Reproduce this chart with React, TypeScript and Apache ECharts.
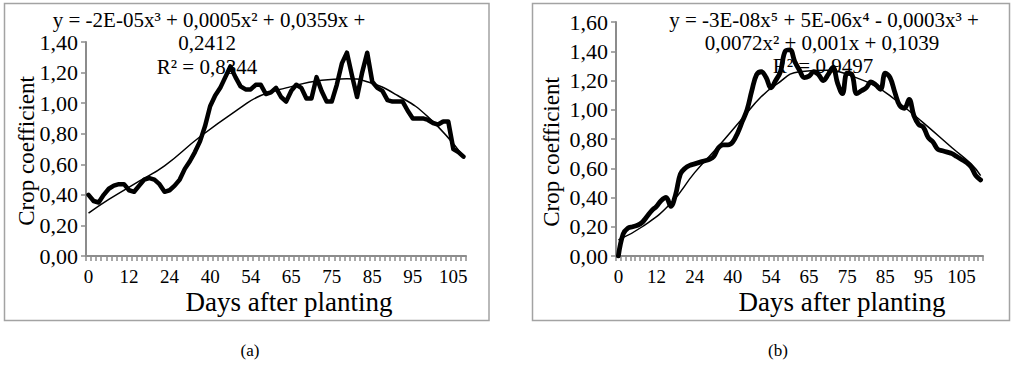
import React, { useEffect, useRef } from "react";
import * as echarts from "echarts";

// Days after planting (category labels), panel (a) and (b)
const daysA = [0, 1, 3, 4, 6, 7, 9, 10, 12, 13, 15, 16, 18, 19, 21, 22, 24, 26, 28, 30, 32, 34, 36, 38, 40, 42, 44, 45, 47, 49, 51, 52, 54, 55, 57, 58, 59, 61, 62, 63, 65, 66, 67, 69, 70, 71, 72, 74, 75, 76, 77, 79, 80, 81, 82, 84, 85, 86, 87, 89, 90, 91, 92, 94, 95, 96, 97, 99, 100, 101, 102, 104, 105, 106, 107];
const daysB = [0, 1, 3, 4, 6, 7, 9, 10, 12, 13, 15, 16, 18, 19, 21, 22, 24, 26, 28, 30, 32, 34, 36, 38, 40, 42, 44, 45, 47, 49, 51, 52, 54, 55, 57, 58, 59, 61, 62, 63, 65, 66, 67, 69, 70, 71, 72, 74, 75, 76, 77, 79, 80, 81, 82, 84, 85, 86, 87, 89, 90, 91, 92, 94, 95, 96, 97, 99, 100, 101, 102, 104, 105, 106, 107, 108, 109];

// Crop coefficient, panel (a)
const kcA = [0.40, 0.36, 0.35, 0.40, 0.44, 0.46, 0.47, 0.47, 0.43, 0.42, 0.46, 0.50, 0.51, 0.50, 0.47, 0.42, 0.43, 0.46, 0.50, 0.57, 0.62, 0.68, 0.75, 0.85, 0.98, 1.05, 1.10, 1.17, 1.24, 1.17, 1.11, 1.09, 1.09, 1.12, 1.12, 1.06, 1.07, 1.10, 1.04, 1.01, 1.08, 1.12, 1.10, 1.03, 1.03, 1.17, 1.08, 1.01, 1.01, 1.12, 1.26, 1.33, 1.18, 1.04, 1.20, 1.33, 1.14, 1.10, 1.08, 1.02, 1.01, 1.01, 1.01, 0.95, 0.90, 0.90, 0.90, 0.89, 0.87, 0.86, 0.88, 0.88, 0.70, 0.68, 0.65];
// Crop coefficient, panel (b)
const kcB = [0.00, 0.15, 0.19, 0.20, 0.21, 0.23, 0.27, 0.31, 0.34, 0.38, 0.40, 0.34, 0.42, 0.56, 0.60, 0.62, 0.63, 0.64, 0.65, 0.66, 0.68, 0.74, 0.76, 0.76, 0.78, 0.84, 0.92, 1.00, 1.13, 1.24, 1.26, 1.22, 1.15, 1.20, 1.26, 1.40, 1.41, 1.33, 1.27, 1.22, 1.23, 1.26, 1.24, 1.20, 1.24, 1.29, 1.18, 1.11, 1.25, 1.24, 1.11, 1.13, 1.15, 1.19, 1.17, 1.14, 1.25, 1.22, 1.12, 1.03, 1.01, 1.07, 0.96, 0.90, 0.88, 0.81, 0.78, 0.73, 0.72, 0.71, 0.70, 0.68, 0.66, 0.64, 0.61, 0.55, 0.52];

// Trend lines (category index, value)
const trendAIdx = [0, 4, 10, 15, 22, 30, 34, 39, 46, 51, 55, 61, 67, 74];
const trendAKc = [0.28, 0.37, 0.49, 0.59, 0.78, 0.97, 1.05, 1.10, 1.15, 1.16, 1.14, 1.05, 0.91, 0.65];
const trendBIdx = [0, 5, 11, 16, 21, 26, 30, 33, 38, 44, 49, 54, 58, 64, 70, 74, 76];
const trendBKc = [0.11, 0.20, 0.36, 0.57, 0.75, 0.94, 1.09, 1.17, 1.26, 1.27, 1.23, 1.16, 1.07, 0.91, 0.74, 0.63, 0.55];

const eqA = ["y = -2E-05x³ + 0,0005x² + 0,0359x +", "0,2412", "R² = 0,8344"];
const eqB = ["y = -3E-08x⁵ + 5E-06x⁴ - 0,0003x³ +", "0,0072x² + 0,001x + 0,1039", "R² = 0,9497"];
const xName = "Days after planting";
const yName = "Crop coefficient";
const panelLabels = ["(a)", "(b)"];

const FAMILY = "Liberation Serif";
const FONT = "'Liberation Serif', serif";
const AXIS_GREY = "#8c8c8c";

export default function App() {
  const ref = useRef<HTMLDivElement>(null);
  useEffect(() => {
    if (!ref.current) return;
    const chart = echarts.init(ref.current, null, { renderer: "svg" });
    const fmt = (v: number) => v.toFixed(2).replace(".", ",");
    const xAxisBase = (gridIndex: number, data: number[]) => ({
      type: "category",
      gridIndex,
      data: data.map(String),
      boundaryGap: true,
      axisLine: { show: true, lineStyle: { color: AXIS_GREY, width: 2 } },
      axisTick: { show: true, interval: 0, length: 5, lineStyle: { color: AXIS_GREY, width: 1.5 } },
      axisLabel: {
        interval: 7, margin: 11,
        textStyle: undefined,
        color: "#000", fontFamily: FAMILY, fontSize: 19, lineHeight: 19,
      },
      splitLine: { show: false },
    });
    const yAxisBase = (gridIndex: number, max: number) => ({
      type: "value",
      gridIndex,
      min: 0,
      max,
      interval: 0.2,
      axisLine: { show: true, lineStyle: { color: AXIS_GREY, width: 2 } },
      axisTick: { show: true, length: 5, lineStyle: { color: AXIS_GREY, width: 1.5 } },
      axisLabel: { color: "#000", fontFamily: FAMILY, fontSize: 22, margin: 8, formatter: fmt },
      splitLine: { show: false },
    });
    const txt = (text: string, x: number, y: number, size: number, extra: any = {}) => ({
      type: "text",
      z: 0,
      ...extra,
      style: { text, x, y, fill: "#000", font: `${size}px ${FONT}`, textAlign: "center", textVerticalAlign: "middle" },
    });
    const option: any = {
      animation: false,
      backgroundColor: "#fff",
      textStyle: { fontFamily: FAMILY },
      grid: [
        { left: 86, top: 42, width: 380, height: 214 },
        { left: 616, top: 22, width: 367, height: 234 },
      ],
      xAxis: [xAxisBase(0, daysA), xAxisBase(1, daysB)],
      yAxis: [yAxisBase(0, 1.4), yAxisBase(1, 1.6)],
      series: [
        {
          type: "line", xAxisIndex: 0, yAxisIndex: 0, data: kcA, showSymbol: false, z: 3,
          lineStyle: { color: "#000", width: 4.5, join: "round", cap: "round" },
        },
        {
          type: "line", xAxisIndex: 0, yAxisIndex: 0, smooth: true, showSymbol: false, z: 4,
          data: trendAIdx.map((i, k) => [i, trendAKc[k]]),
          lineStyle: { color: "#000", width: 1.5 },
        },
        {
          type: "line", xAxisIndex: 1, yAxisIndex: 1, data: kcB, showSymbol: false, smooth: 0.4, z: 3,
          lineStyle: { color: "#000", width: 4.8, join: "round", cap: "round" },
        },
        {
          type: "line", xAxisIndex: 1, yAxisIndex: 1, smooth: true, showSymbol: false, z: 4,
          data: trendBIdx.map((i, k) => [i, trendBKc[k]]),
          lineStyle: { color: "#000", width: 1.5 },
        },
      ],
      graphic: [
        { type: "rect", z: -1, shape: { x: 4.5, y: 3.5, width: 484.5, height: 317 }, style: { fill: "none", stroke: "#a3a3a3", lineWidth: 1.5 } },
        { type: "rect", z: -1, shape: { x: 532.5, y: 3.5, width: 477, height: 317 }, style: { fill: "none", stroke: "#a3a3a3", lineWidth: 1.5 } },
        txt(eqA[0], 209, 20, 21),
        txt(eqA[1], 207, 43, 21),
        txt(eqA[2], 207, 67, 21),
        txt(eqB[0], 824, 20, 21),
        txt(eqB[1], 822, 43, 21),
        txt(eqB[2], 823, 66, 21),
        txt(xName, 289, 302, 27),
        txt(xName, 842, 302, 27),
        {
          type: "text", z: 0, x: 26, y: 151, rotation: Math.PI / 2,
          style: { text: yName, x: 0, y: 0, fill: "#000", font: `23px ${FONT}`, textAlign: "center", textVerticalAlign: "middle" },
        },
        {
          type: "text", z: 0, x: 551, y: 152, rotation: Math.PI / 2,
          style: { text: yName, x: 0, y: 0, fill: "#000", font: `23px ${FONT}`, textAlign: "center", textVerticalAlign: "middle" },
        },
        txt(panelLabels[0], 250, 350, 17),
        txt(panelLabels[1], 778, 350, 17),
      ],
    };
    chart.setOption(option);
    return () => chart.dispose();
  }, []);
  return <div ref={ref} style={{ position: "fixed", left: 0, top: 0, width: 1014, height: 368, background: "#fff" }} />;
}
